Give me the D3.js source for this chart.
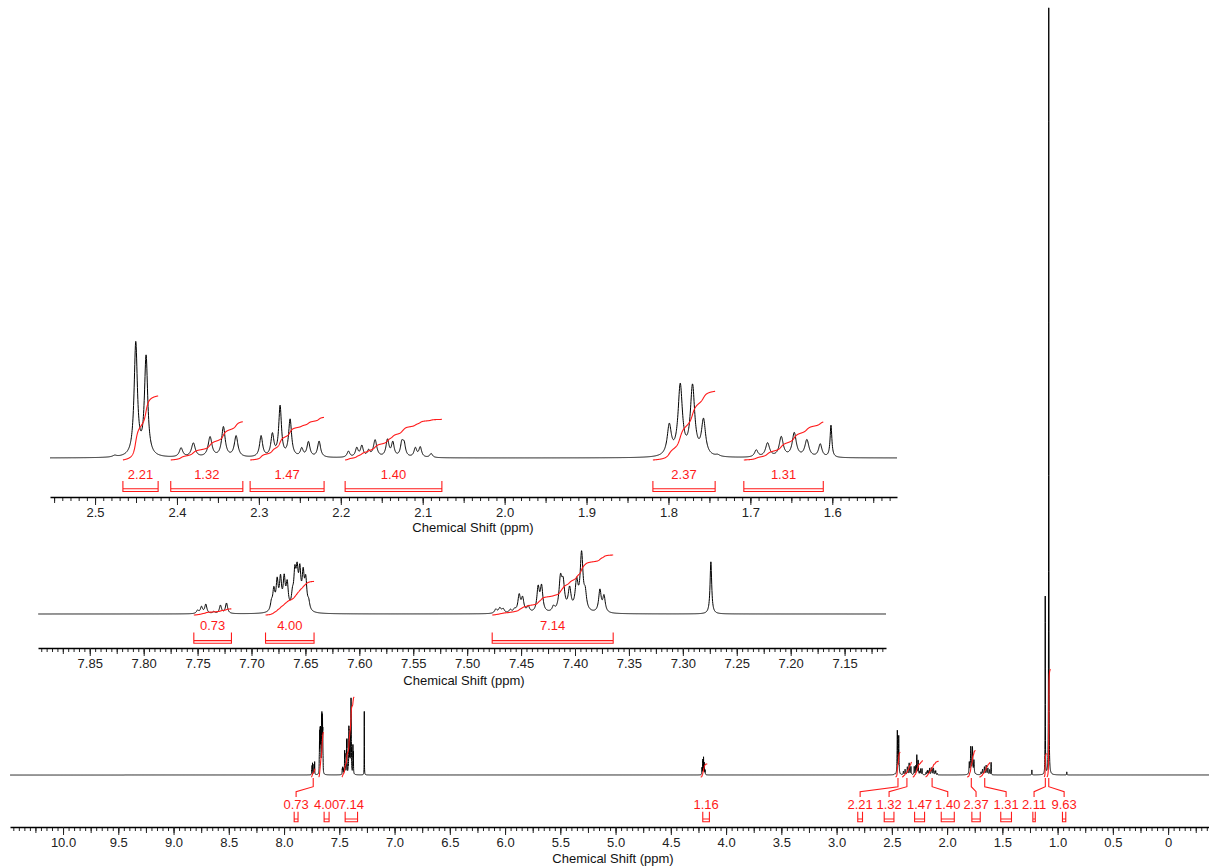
<!DOCTYPE html>
<html>
<head>
<meta charset="utf-8">
<script src="https://cdn.jsdelivr.net/npm/d3@7"></script>
<style>
  body { margin: 0; background: #fff; }
  svg { display: block; font-family: "Liberation Sans", Arial, sans-serif; }
</style>
</head>
<body>
<svg id="chart" width="1209" height="867"></svg>
<script>
// ---- 1H NMR data -------------------------------------------------------
// Resonance lines: [shift (ppm), intensity, half width at half height (ppm)]
const aromaticPeaks = [
  [7.7500, 10, 0.0012], [7.7464, 21, 0.0012], [7.7424, 29, 0.0012], [7.7350, 6, 0.0012],
  [7.7288, 26, 0.0012], [7.7232, 33, 0.0012],
  [7.6815, 25, 0.0012], [7.6793, 63, 0.0012], [7.6762, 89, 0.0012], [7.6731, 95, 0.0012],
  [7.6697, 95, 0.0012], [7.6669, 79, 0.0012], [7.6620, 40, 0.0012], [7.6598, 105, 0.0012],
  [7.6577, 105, 0.0012], [7.6552, 111, 0.0012], [7.6521, 105, 0.0012], [7.6497, 89, 0.0012],
  [7.6470, 25, 0.0012],
  [7.4734, 13, 0.0014], [7.4697, 16, 0.0014], [7.4666, 13, 0.0014], [7.4600, 10, 0.0014],
  [7.4560, 10, 0.0014], [7.4518, 54, 0.0014], [7.4486, 44, 0.0014], [7.4434, 19, 0.0014],
  [7.4342, 76, 0.0014], [7.4310, 79, 0.0014], [7.4200, 16, 0.0014], [7.4135, 98, 0.0016],
  [7.4110, 80, 0.0016], [7.4050, 70, 0.0016], [7.3985, 89, 0.0016], [7.3939, 180, 0.0016],
  [7.3905, 48, 0.0014], [7.3769, 70, 0.0014], [7.3731, 51, 0.0014],
  [7.2740, 165, 0.0009]
];

const aliphaticPeaks = [
  [2.4760, 1.5, 0.0030],
  [2.4503, 113, 0.0024], [2.4377, 99, 0.0024],
  [2.3950, 9, 0.0025], [2.3800, 14, 0.0028], [2.3596, 20, 0.0028], [2.3433, 30, 0.0026],
  [2.3278, 21, 0.0026],
  [2.2973, 21, 0.0022], [2.2835, 22, 0.0022], [2.2741, 50, 0.0020], [2.2619, 37, 0.0022],
  [2.2477, 8, 0.0020], [2.2395, 15, 0.0022], [2.2265, 16, 0.0022],
  [2.1907, 6, 0.0020], [2.1805, 9, 0.0020], [2.1743, 11, 0.0020], [2.1660, 6, 0.0020],
  [2.1581, 17, 0.0025], [2.1430, 17, 0.0022], [2.1365, 14, 0.0020], [2.1255, 13, 0.0020],
  [2.1227, 12, 0.0020], [2.1090, 9, 0.0020], [2.1030, 10, 0.0020], [2.0897, 4, 0.0020],
  [1.7990, 30, 0.0030], [1.7856, 70, 0.0032], [1.7706, 69, 0.0032], [1.7572, 35, 0.0030],
  [1.7400, 1.5, 0.0030],
  [1.6928, 7, 0.0025], [1.6790, 14, 0.0030], [1.6623, 20, 0.0030], [1.6464, 24, 0.0030],
  [1.6310, 17, 0.0030], [1.6147, 13, 0.0025], [1.6016, 32, 0.0013]
];

const otherPeaks = [
  [4.2180, 18, 0.0015], [4.2110, 38, 0.0015], [4.2040, 44, 0.0015], [4.1970, 30, 0.0015],
  [4.1900, 12, 0.0015],
  [1.2330, 13, 0.0015], [1.1120, 462, 0.0012], [1.0800, 1992, 0.0012], [0.9170, 8, 0.0015]
];

// Integration regions (ppm) and their integrals
const integralFrom   = [7.7535, 7.6870, 7.4768, 4.2300, 2.4660, 2.4076, 2.3107, 2.1947, 1.8190, 1.7080, 1.1220, 1.0950];
const integralTo     = [7.7186, 7.6420, 7.3646, 4.1700, 2.4230, 2.3196, 2.2204, 2.0766, 1.7430, 1.6110, 1.1000, 1.0650];
const integralValues = [0.73, 4.00, 7.14, 1.16, 2.21, 1.32, 1.47, 1.40, 2.37, 1.31, 2.11, 9.63];

// Axis tick labels
const mainTicks      = [10.0, 9.5, 9.0, 8.5, 8.0, 7.5, 7.0, 6.5, 6.0, 5.5, 5.0, 4.5, 4.0, 3.5, 3.0, 2.5, 2.0, 1.5, 1.0, 0.5, 0];
const aliphaticTicks = [2.5, 2.4, 2.3, 2.2, 2.1, 2.0, 1.9, 1.8, 1.7, 1.6];
const aromaticTicks  = [7.85, 7.80, 7.75, 7.70, 7.65, 7.60, 7.55, 7.50, 7.45, 7.40, 7.35, 7.30, 7.25, 7.20, 7.15];

const axisTitle = "Chemical Shift (ppm)";

// ---- drawing ------------------------------------------------------------
const RED = "#ff1a1a";
const svg = d3.select("#chart");
const allPeaks = aromaticPeaks.concat(aliphaticPeaks, otherPeaks);

function intensityAt(peaks, p) {
  let s = 0;
  for (const [c, h, w] of peaks) {
    const d = p - c;
    s += h * w * w / (w * w + d * d);
  }
  return s;
}

function sampleShifts(hi, lo, step, peaks) {
  const pts = d3.range(lo, hi, step);
  peaks.forEach(pk => { if (pk[0] > lo && pk[0] < hi) pts.push(pk[0]); });
  pts.sort((a, b) => b - a);
  return pts;
}

// Label placement for the full-range trace (ppm of each label) and whether a leader is drawn
const mainLabelAt = [7.891, 7.615, 7.391, 4.181, 2.787, 2.525, 2.249, 1.994, 1.738, 1.466, 1.213, 0.941];
const mainLeader  = [true, false, false, false, true, true, false, true, true, true, true, true];

const panels = [
  { // full spectrum
    domain: [10.48, -0.37], xr: [10, 1209], base: 775, k: 0.385, step: 0.0005,
    axisY: 827, titleX: 613, titleY: 863,
    ticks: mainTicks, minorStep: 0.05, midEvery: 0.25, fmt: v => v === 0 ? "0" : v.toFixed(1),
    regions: d3.range(integralValues.length), intScale: 11.2, intDrop: 2,
    labelY: 808.5, brTop: 811.7, brBot: 821.7, shifted: true
  },
  { // aliphatic expansion
    domain: [2.555, 1.521], xr: [50, 897], base: 458, k: 1, step: 0.00025,
    axisY: 497, titleX: 473, titleY: 532,
    ticks: aliphaticTicks, minorStep: 0.01, midEvery: 0.05, fmt: v => v.toFixed(1),
    regions: [4, 5, 6, 7, 8, 9], intScale: 29, intDrop: 2,
    labelY: 478.5, brTop: 481, brBot: 491.5, shifted: false
  },
  { // aromatic expansion
    domain: [7.898, 7.1116], xr: [38, 886], base: 614, k: 0.316, step: 0.0002,
    axisY: 648, titleX: 464, titleY: 685,
    ticks: aromaticTicks, minorStep: 0.005, midEvery: 0.025, fmt: v => v.toFixed(2),
    regions: [0, 1, 2], intScale: 8.4, intDrop: 1,
    labelY: 629.5, brTop: 632.5, brBot: 643.3, shifted: false
  }
];

panels.forEach(cfg => {
  const g = svg.append("g");
  const x = d3.scaleLinear().domain(cfg.domain).range(cfg.xr);
  const y = d3.scaleLinear().domain([0, 1]).range([cfg.base, cfg.base - cfg.k]);
  const hi = cfg.domain[0], lo = cfg.domain[1];
  const peaks = allPeaks.filter(pk => pk[0] < hi + 0.3 && pk[0] > lo - 0.3);

  // spectrum trace
  const pts = sampleShifts(hi, lo, cfg.step, peaks).map(p => [p, intensityAt(peaks, p)]);
  g.append("path")
    .attr("d", d3.line().x(d => x(d[0])).y(d => y(d[1]))(pts))
    .attr("fill", "none").attr("stroke", "#000").attr("stroke-width", 1);

  // integrals
  const yInt = d3.scaleLinear().domain([0, 1])
    .range([cfg.base + cfg.intDrop, cfg.base + cfg.intDrop - cfg.intScale]);
  cfg.regions.forEach(i => {
    const a = integralFrom[i], b = integralTo[i], val = integralValues[i];
    const stepI = Math.min(cfg.step, 0.0002);
    const ps = d3.range(a, b - 1e-9, -stepI);
    let cum = 0;
    const raw = ps.map(p => { cum += intensityAt(peaks, p); return [p, cum]; });
    const total = cum || 1;
    const curve = raw.map(d => [d[0], d[1] / total * val]);
    g.append("path")
      .attr("d", d3.line().x(d => x(d[0])).y(d => yInt(d[1]))(curve))
      .attr("fill", "none").attr("stroke", RED).attr("stroke-width", 1.1);

    const width = x(b) - x(a);
    const cx = cfg.shifted ? x(mainLabelAt[i]) : (x(a) + x(b)) / 2;
    const x1 = cx - width / 2, x2 = cx + width / 2;
    const inner = cfg.brBot - 2.7;
    g.append("path")
      .attr("d", `M${x1},${cfg.brTop}V${cfg.brBot}H${x2}V${cfg.brTop}M${x1},${inner}H${x2}`)
      .attr("fill", "none").attr("stroke", RED).attr("stroke-width", 1.1);
    g.append("text")
      .attr("x", cx).attr("y", cfg.labelY)
      .attr("text-anchor", "middle").attr("font-size", 13).attr("fill", RED)
      .text(val.toFixed(2));

    if (cfg.shifted && mainLeader[i]) {
      const rx = x((a + b) / 2);
      g.append("path")
        .attr("d", `M${rx},778V786.7L${cx},791.7V797`)
        .attr("fill", "none").attr("stroke", RED).attr("stroke-width", 1.1);
    }
  });

  // axis: minor, mid and labelled ticks
  const minorVals = d3.range(Math.ceil(lo / cfg.minorStep), Math.floor(hi / cfg.minorStep) + 1)
    .map(n => n * cfg.minorStep);
  const midVals = minorVals.filter(v => Math.abs(v / cfg.midEvery - Math.round(v / cfg.midEvery)) < 1e-6);
  g.append("g").attr("transform", `translate(0,${cfg.axisY})`)
    .call(d3.axisBottom(x).tickValues(minorVals).tickSize(4).tickSizeOuter(0).tickFormat(""))
    .call(s => s.select(".domain").remove());
  g.append("g").attr("transform", `translate(0,${cfg.axisY})`)
    .call(d3.axisBottom(x).tickValues(midVals).tickSize(6).tickSizeOuter(0).tickFormat(""))
    .call(s => s.select(".domain").remove());
  const ax = g.append("g").attr("transform", `translate(0,${cfg.axisY})`)
    .call(d3.axisBottom(x).tickValues(cfg.ticks).tickSize(8).tickSizeOuter(0)
      .tickPadding(3).tickFormat(cfg.fmt));
  ax.select(".domain").attr("stroke-width", 1.6);
  ax.selectAll("text").attr("font-size", 13).attr("fill", "#222")
    .attr("font-family", "'Liberation Sans', Arial, sans-serif");
  g.selectAll(".tick line").attr("stroke", "#222");

  g.append("text")
    .attr("x", cfg.titleX).attr("y", cfg.titleY)
    .attr("text-anchor", "middle").attr("font-size", 13).attr("fill", "#111")
    .text(axisTitle);
});
</script>
</body>
</html>
